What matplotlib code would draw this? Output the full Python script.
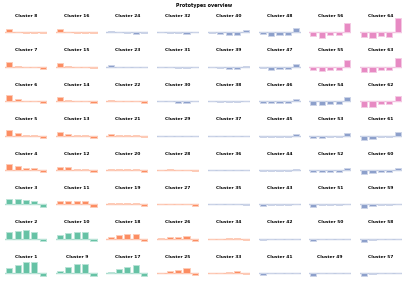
import matplotlib.pyplot as plt
from matplotlib.colors import to_rgb

# prototype profiles, 5 features per cluster
clusters_1_8 = [
    [5.0, 8.0, 11.5, 11.0, -3.0],
    [6.3, 7.3, 8.3, 7.0, -2.7],
    [5.0, 5.7, 4.3, 3.7, -3.0],
    [5.5, 3.7, 2.0, 1.5, -2.5],
    [5.3, 2.3, 0.3, 0.3, -2.3],
    [5.7, 2.0, 0.3, 0.3, -2.0],
    [4.3, 0.7, 0.0, -0.3, -1.8],
    [3.3, 0.2, -0.5, -0.7, -0.7],
]
clusters_9_16 = [
    [2.3, 6.0, 9.0, 9.0, -2.7],
    [3.3, 6.0, 6.7, 6.3, -2.7],
    [3.3, 3.7, 3.0, 3.0, -2.3],
    [3.0, 2.7, 1.0, 1.0, -2.0],
    [3.5, 1.7, 0.3, 0.3, -2.0],
    [4.0, 1.0, 0.2, 0.2, -2.0],
    [3.5, 0.5, 0.0, 0.0, -1.7],
    [3.0, 0.2, -0.7, -1.0, -0.7],
]
clusters_17_24 = [
    [0.8, 4.0, 5.7, 7.7, -2.7],
    [2.0, 3.3, 4.3, 5.0, -2.3],
    [1.5, 1.7, 1.7, 1.7, -1.7],
    [1.3, 1.3, 0.7, 0.7, -1.8],
    [1.3, 1.0, 0.2, 0.2, -1.7],
    [1.5, 0.2, 0.0, 0.0, -1.5],
    [1.3, 0.0, -0.5, -0.5, -0.5],
    [1.0, 0.0, -1.0, -1.2, -0.3],
]
clusters_25_32 = [
    [0.2, 2.3, 3.0, 5.3, -1.7],
    [0.3, 1.7, 2.0, 3.0, -2.0],
    [0.1, 0.7, 0.7, 0.7, -1.4],
    [0.3, 0.5, 0.1, 0.1, -1.0],
    [0.0, 0.0, -0.2, -0.5, -0.5],
    [0.0, -0.3, -1.5, -1.5, 0.0],
    [0.0, -0.5, -1.0, -1.0, 0.0],
    [0.0, -0.7, -1.0, -1.3, 0.0],
]
clusters_33_40 = [
    [0.0, 0.2, 0.8, 2.0, -1.3],
    [0.0, 0.2, 0.3, 1.0, -1.0],
    [0.0, 0.0, 0.0, 0.0, -0.3],
    [-0.2, -0.2, -0.2, -0.2, 0.1],
    [0.0, -0.3, -0.3, -0.3, 0.0],
    [-0.3, -0.7, -1.0, -1.0, 0.0],
    [-0.3, -1.5, -2.0, -2.0, 1.0],
    [-0.4, -2.0, -2.3, -2.3, 2.0],
]
clusters_41_48 = [
    [-1.7, 0.0, 0.0, 0.2, -0.3],
    [-1.3, -0.2, -0.2, -0.5, 0.0],
    [-1.5, -0.3, -0.3, -0.5, 0.0],
    [-1.3, -1.3, -1.3, -1.3, 0.5],
    [-1.5, -1.5, -1.5, -1.5, 1.3],
    [-2.0, -2.3, -2.3, -2.3, 2.0],
    [-1.3, -3.0, -2.7, -2.7, 3.0],
    [-1.3, -3.5, -3.0, -3.0, 4.3],
]
clusters_49_56 = [
    [-2.5, -0.3, 0.0, 0.0, 0.0],
    [-2.3, -0.7, -0.7, -0.7, 0.0],
    [-3.0, -1.0, -1.0, -1.0, 0.0],
    [-2.3, -2.3, -2.0, -2.0, 2.0],
    [-2.7, -2.7, -1.7, -1.7, 3.0],
    [-4.0, -4.0, -3.0, -3.0, 4.0],
    [-3.7, -4.3, -3.3, -3.3, 6.7],
    [-3.3, -5.3, -3.0, -3.0, 9.7],
]
clusters_57_64 = [
    [-3.0, -0.8, -0.3, -0.3, 0.0],
    [-3.3, -1.3, -0.7, -0.7, 0.0],
    [-4.0, -2.0, -1.0, -1.0, 0.0],
    [-4.0, -2.7, -1.7, -1.7, 2.0],
    [-4.3, -3.3, -1.7, -1.7, 3.5],
    [-6.0, -6.0, -3.0, -3.0, 5.5],
    [-5.3, -5.3, -3.3, -3.3, 8.7],
    [-4.3, -6.0, -3.7, -4.3, 14.0],
]

columns = [clusters_1_8, clusters_9_16, clusters_17_24, clusters_25_32,
           clusters_33_40, clusters_41_48, clusters_49_56, clusters_57_64]

# group of each cluster (1..64)
green_clusters = [1, 2, 3, 9, 10, 17]
pink_clusters = [55, 56, 62, 63, 64]
orange_clusters = [4, 5, 6, 7, 8, 11, 12, 13, 14, 15, 16, 18, 19, 20, 21, 22,
                   25, 26, 27, 28, 33, 34]

GREEN, ORANGE, BLUE, PINK = "#66c2a5", "#fc8d62", "#8da0cb", "#e78ac3"


def group_color(n):
    if n in green_clusters:
        return GREEN
    if n in orange_clusters:
        return ORANGE
    if n in pink_clusters:
        return PINK
    return BLUE


def lighten(c, f):
    r, g, b = to_rgb(c)
    return (r + (1 - r) * f, g + (1 - g) * f, b + (1 - b) * f)


W, H = 409, 289
fig = plt.figure(figsize=(W / 100, H / 100), dpi=100)
fig.text(0.5, 1 - 6 / H, "Prototypes overview", ha="center", va="center",
         fontsize=3.4, fontweight="bold")

ymin, ymax = -7, 14
for c, col in enumerate(columns):
    for i, vals in enumerate(col):
        n = c * 8 + i + 1
        row = 7 - i
        base = 32.3 + 34.4 * row
        top = base - ymax
        left = 5 + 50.7 * c
        ax = fig.add_axes([left / W, 1 - (top + (ymax - ymin)) / H,
                           42 / W, (ymax - ymin) / H])
        color = group_color(n)
        ax.axhline(0, color=lighten(color, 0.45), lw=1.0, zorder=1)
        ax.bar(range(5), vals, width=0.72, color=color,
               edgecolor=lighten(color, 0.55), linewidth=0.7, zorder=2)
        ax.set_xlim(-0.5, 4.5)
        ax.set_ylim(ymin, ymax)
        ax.axis("off")
        ax.set_title(f"Cluster {n}", fontsize=3.2, fontweight="bold", pad=1.0)

fig.savefig("out.png", dpi=100)
